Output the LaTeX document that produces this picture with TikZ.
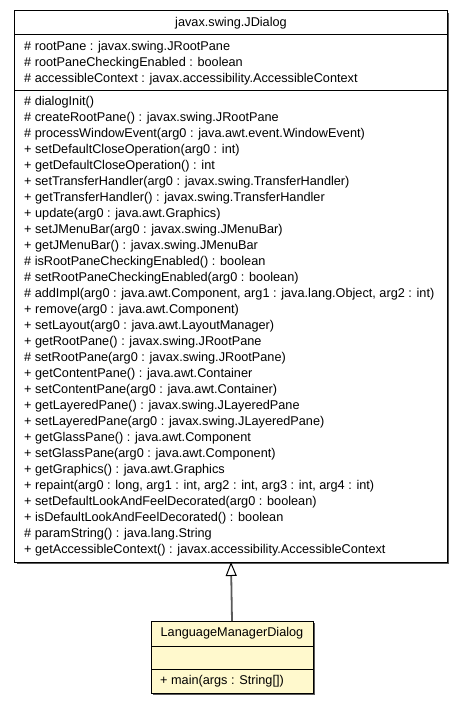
\documentclass[tikz,border=0pt]{standalone}
\usepackage{fontspec}
\setmainfont{Liberation Sans}
\usepackage{tikz}
\usetikzlibrary{positioning}
\usetikzlibrary{arrows.meta, shadows}
\definecolor{umlyellow}{RGB}{255,249,205}
\definecolor{umlshadow}{RGB}{90,90,90}
\tikzstyle{classbox} = [draw=black, line width=1bp, inner sep=0pt, outer sep=0pt, fill=white,
  drop shadow={shadow xshift=1.6bp, shadow yshift=-1.6bp, fill=umlshadow, opacity=1}]
\tikzstyle{inherit} = [draw=umlshadow, line width=1.8bp, -{Triangle[open, length=14bp, width=11bp, color=black, line width=1bp]}]

\begin{document}
\begin{tikzpicture}[
    x = 1bp, y = -1bp,
    every node/.style = {font = \fontsize{12.7bp}{16bp}\selectfont, inner sep = 0pt},
    member/.style = {anchor = west},
    title/.style = {anchor = center}
  ]
  \useasboundingbox (0,0) rectangle (464,704);

  % superclass
  \node[classbox, minimum width = 432bp, minimum height = 551bp] (dialog) at (231,286.5) {};
  \draw[line width = 1bp] (15,35) -- (447,35);
  \draw[line width = 1bp] (15,91) -- (447,91);
  \node[title] (dialogname) at (231,23) {javax.swing.JDialog};

  \foreach \txt [count = \i from 0] in {
      {\# rootPane : javax.swing.JRootPane},
      {\# rootPaneCheckingEnabled : boolean},
      {\# accessibleContext : javax.accessibility.AccessibleContext}} {
    \node[member] (da\i) at (24,{47+16*\i}) {\txt};
  }

  \foreach \txt [count = \i from 0] in {
      {\# dialogInit()},
      {\# createRootPane() : javax.swing.JRootPane},
      {\# processWindowEvent(arg0 : java.awt.event.WindowEvent)},
      {+ setDefaultCloseOperation(arg0 : int)},
      {+ getDefaultCloseOperation() : int},
      {+ setTransferHandler(arg0 : javax.swing.TransferHandler)},
      {+ getTransferHandler() : javax.swing.TransferHandler},
      {+ update(arg0 : java.awt.Graphics)},
      {+ setJMenuBar(arg0 : javax.swing.JMenuBar)},
      {+ getJMenuBar() : javax.swing.JMenuBar},
      {\# isRootPaneCheckingEnabled() : boolean},
      {\# setRootPaneCheckingEnabled(arg0 : boolean)},
      {\# addImpl(arg0 : java.awt.Component, arg1 : java.lang.Object, arg2 : int)},
      {+ remove(arg0 : java.awt.Component)},
      {+ setLayout(arg0 : java.awt.LayoutManager)},
      {+ getRootPane() : javax.swing.JRootPane},
      {\# setRootPane(arg0 : javax.swing.JRootPane)},
      {+ getContentPane() : java.awt.Container},
      {+ setContentPane(arg0 : java.awt.Container)},
      {+ getLayeredPane() : javax.swing.JLayeredPane},
      {+ setLayeredPane(arg0 : javax.swing.JLayeredPane)},
      {+ getGlassPane() : java.awt.Component},
      {+ setGlassPane(arg0 : java.awt.Component)},
      {+ getGraphics() : java.awt.Graphics},
      {+ repaint(arg0 : long, arg1 : int, arg2 : int, arg3 : int, arg4 : int)},
      {+ setDefaultLookAndFeelDecorated(arg0 : boolean)},
      {+ isDefaultLookAndFeelDecorated() : boolean},
      {\# paramString() : java.lang.String},
      {+ getAccessibleContext() : javax.accessibility.AccessibleContext}} {
    \node[member] (dm\i) at (24,{102+16*\i}) {\txt};
  }

  % subclass
  \node[classbox, fill = umlyellow, minimum width = 162bp, minimum height = 72bp] (langdialog) at (232,657) {};
  \draw[line width = 1bp] (151,646) -- (313,646);
  \draw[line width = 1bp] (151,669) -- (313,669);
  \node[title] (langname) at (232,633.5) {LanguageManagerDialog};
  \node[member] (langmain) at (160,681) {+ main(args : String[])};

  % generalization
  \draw[inherit] (langdialog.north) -- (dialog.south);
\end{tikzpicture}
\end{document}
